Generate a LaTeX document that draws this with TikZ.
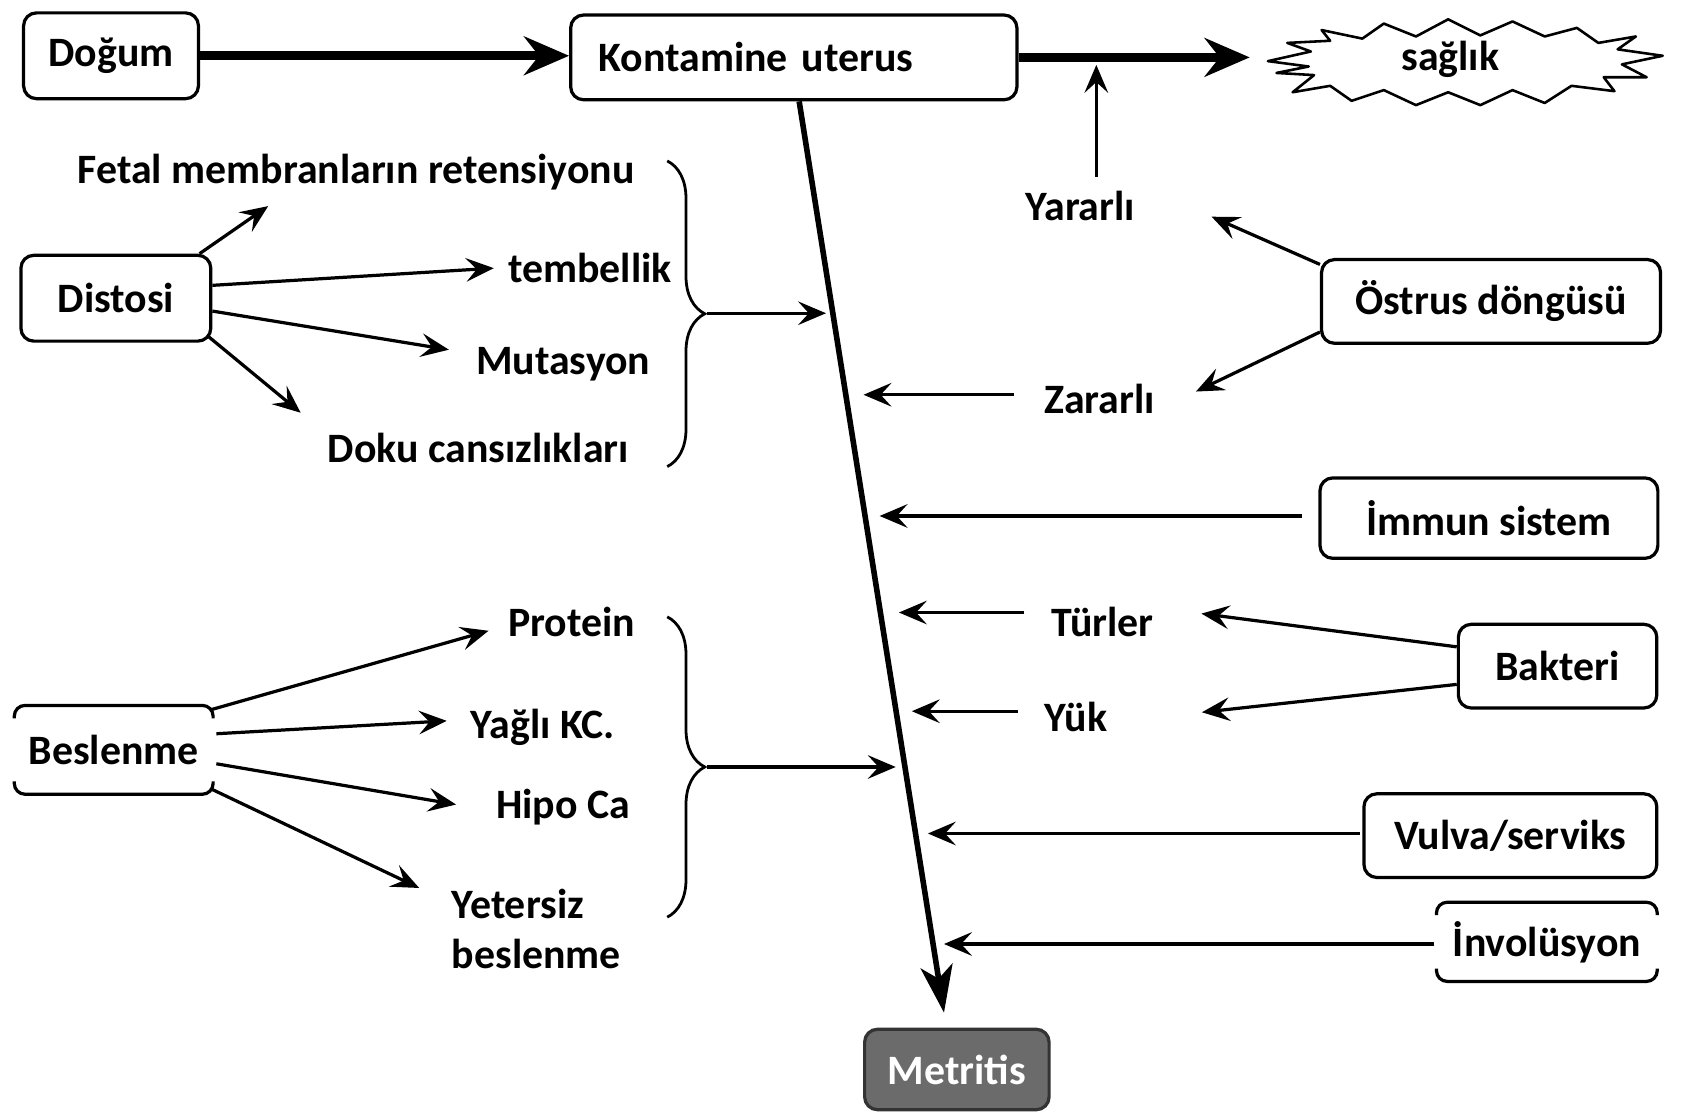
\documentclass[tikz,border=0pt]{standalone}
\usepackage{fontspec}
\setmainfont{Carlito}
\usetikzlibrary{arrows.meta,calc,decorations.pathreplacing}
\begin{document}
\begin{tikzpicture}[x=0.5pt,y=-0.5pt,
  every node/.style={font=\fontsize{19.5pt}{23pt}\selectfont\bfseries, inner sep=6.5pt},
  box/.style={draw, line width=1.5pt, rounded corners=6pt, minimum height=39pt},
  arr/.style={line width=1.5pt, -{Stealth[length=13pt,width=11pt,inset=5pt]}},
  bigarr/.style={line width=4pt, -{Stealth[length=21pt,width=18pt,inset=7pt]}},
  mainarr/.style={line width=2.6pt, -{Stealth[length=22pt,width=15pt,inset=6pt]}},
  brc/.style={decorate, decoration={brace,amplitude=17.5pt}, line width=1.3pt},
  openbox/.style={line width=1.5pt, rounded corners=5pt},
]
\useasboundingbox (0,0) rectangle (1568,1038);

% top row
\node[box, minimum width=81.5pt, minimum height=40pt] (dog) at (103.5,52) {Doğum};
\node[box, minimum width=208pt, minimum height=39.5pt, text width=182pt, inner xsep=13pt, align=left] (ku) at (740,53.5) {Kontamine uterus};
\node (sag) at (1352,55) {sağlık};
\draw[line width=1.2pt, line join=round]
  (1182,57) -- (1222,48) -- (1200,40) -- (1240,38) -- (1232,28) -- (1270,36) -- (1290,22) -- (1320,34) -- (1350,18) -- (1380,33) -- (1410,20) -- (1440,34) -- (1470,26) -- (1490,40) -- (1525,34) -- (1508,46) -- (1550,52) -- (1512,60) -- (1535,72) -- (1495,72) -- (1505,85) -- (1465,80) -- (1440,96) -- (1410,84) -- (1380,98) -- (1350,86) -- (1320,98) -- (1290,84) -- (1260,94) -- (1240,80) -- (1205,86) -- (1225,70) -- (1190,68) -- (1220,62) -- cycle;
\coordinate (sagtip) at (1165,54);

% right side
\node (yar) at (1007,192) {Yararlı};
\node[box, minimum width=158pt, minimum height=39pt] (ost) at (1390,281) {Östrus döngüsü};
\node (zar) at (1025,372) {Zararlı};
\node[box, minimum width=157.5pt, minimum height=37.5pt] (imm) at (1388,483) {İmmun sistem};
\node (tur) at (1028,580) {Türler};
\node (yuk) at (1003,668) {Yük};
\node[box, minimum width=92.5pt, minimum height=39pt] (bak) at (1452,621) {Bakteri};
\node[box, minimum width=136.5pt, minimum height=39pt] (vul) at (1408,779) {Vulva/serviks};
\node[minimum width=102.5pt, minimum height=36.5pt] (inv) at (1442,878) {İnvolüsyon};
\draw[openbox] ($(inv.north west)+(0,12)$) |- (inv.north east) -- ($(inv.north east)+(0,12)$);
\draw[openbox] ($(inv.south west)+(0,-12)$) |- (inv.south east) -- ($(inv.south east)+(0,-12)$);
\node[draw=black!80, fill=black!58, text=white, line width=1.5pt, rounded corners=6pt, minimum width=86pt, minimum height=37.5pt] (met) at (892,997) {Metritis};

% left side
\node (fet) at (332,160) {Fetal membranların retensiyonu};
\node[box, minimum width=88.5pt, minimum height=40pt] (dis) at (108,278) {Distosi};
\node (tem) at (550,250) {tembellik};
\node (mut) at (525,340) {Mutasyon};
\node (dok) at (446,418) {Doku cansızlıkları};
\node[minimum width=91pt, minimum height=41pt] (bes) at (106,699) {Beslenme};
\draw[openbox] ($(bes.north west)+(0,12)$) |- (bes.north east) -- ($(bes.north east)+(0,12)$);
\draw[openbox] ($(bes.south west)+(0,-12)$) |- (bes.south east) -- ($(bes.south east)+(0,-12)$);
\node (pro) at (533,580) {Protein};
\node (yag) at (506,678) {Yağlı KC.};
\node (hip) at (525,752) {Hipo Ca};
\node[align=left] (yet) at (500,866) {Yetersiz\\beslenme};

% points on the main line
\coordinate (h1) at (770,292);
\coordinate (h2) at (805,368);
\coordinate (h3) at (820,481);
\coordinate (h4) at (838,571);
\coordinate (h5) at (850,663);
\coordinate (h6) at (835,715);
\coordinate (h7) at (865,777);
\coordinate (h8) at (880,880);

% main flow
\draw[bigarr] (dog.east) -- (dog.east -| ku.west);
\draw[bigarr] (ku.east) -- (ku.east -| sagtip);
\draw[mainarr] ($(ku.south)+(5,0)$) -- ($(met.north)+(-12,-14)$);

% right arrows
\draw[arr] ($(yar.north)+(15,0)$) -- ($(yar.north |- ku.east)+(15,7)$);
\draw[arr] ($(ost.north west)+(0,6)$) -- ($(yar.east)+(58,10)$);
\draw[arr] ($(ost.south west)+(0,-12)$) -- ($(zar.east)+(25,-7)$);
\draw[arr] ($(zar.west)+(-15,-4)$) -- (h2);
\draw[arr] ($(imm.west)+(-15,-2)$) -- (h3);
\draw[arr] ($(tur.west)+(-12,-9)$) -- (h4);
\draw[arr] ($(yuk.west)+(-12,-5)$) -- (h5);
\draw[arr] ($(bak.west)+(0,-18)$) -- ($(tur.east)+(31,-8)$);
\draw[arr] ($(bak.west)+(0,17)$) -- ($(yuk.east)+(75,-4)$);
\draw[arr] ($(vul.west)+(-2,-2)$) -- (h7);
\draw[arr] ($(inv.west)+(-2,2)$) -- (h8);

% braces
\draw[brc] (622,150) -- (622,435);
\coordinate (bt1) at (659,292);
\draw[arr] (bt1) -- (h1);
\draw[brc] (622,575) -- (622,855);
\coordinate (bt2) at (659,715);
\draw[arr] (bt2) -- (h6);

% left arrows
\draw[arr] ($(dis.north east)+(-12,0)$) -- ($(fet.south)+(-82,2)$);
\draw[arr] ($(dis.east)+(0,-12)$) -- (tem.west);
\draw[arr] ($(dis.east)+(0,12)$) -- ($(mut.west)+(-12,-14)$);
\draw[arr] ($(dis.south east)+(-4,-6)$) -- ($(dok.north west)+(-12,-6)$);
\draw[arr] ($(bes.north east)+(-2,4)$) -- ($(pro.west)+(-5,8)$);
\draw[arr] ($(bes.east)+(3,-15)$) -- ($(yag.west)+(-9,-6)$);
\draw[arr] ($(bes.east)+(3,13)$) -- ($(hip.west)+(-24,-2)$);
\draw[arr] ($(bes.south east)+(-2,-5)$) -- ($(yet.north west)+(-17,12)$);
\end{tikzpicture}
\end{document}
